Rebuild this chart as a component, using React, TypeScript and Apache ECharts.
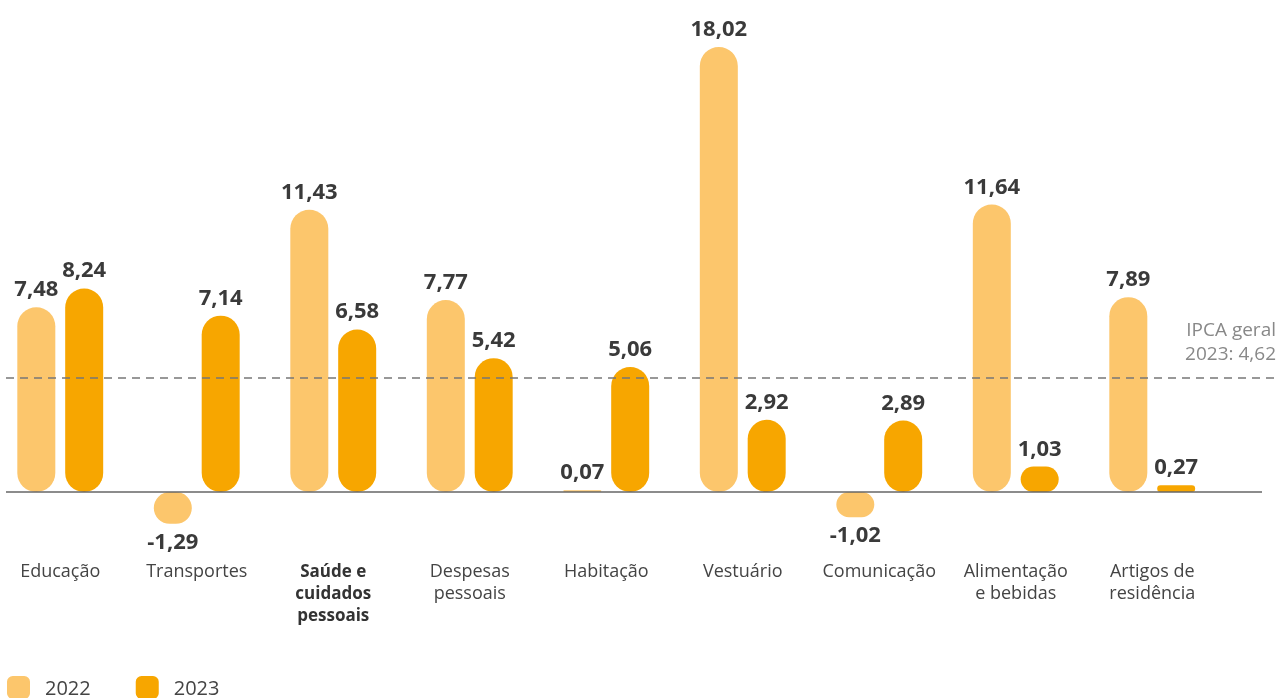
import React, { useEffect, useRef } from "react";
import * as echarts from "echarts";

const categories = [
  "Educação",
  "Transportes",
  "Saúde e\ncuidados\npessoais",
  "Despesas\npessoais",
  "Habitação",
  "Vestuário",
  "Comunicação",
  "Alimentação\ne bebidas",
  "Artigos de\nresidência",
];
const highlightedIndex = 2;
const values2022 = [7.48, -1.29, 11.43, 7.77, 0.07, 18.02, -1.02, 11.64, 7.89];
const values2023 = [8.24, 7.14, 6.58, 5.42, 5.06, 2.92, 2.89, 1.03, 0.27];
const seriesNames = ["2022", "2023"];
const ipcaValue = 4.62;
const ipcaLabel = "IPCA geral\n2023: 4,62";

const COLOR_2022 = "#FCC66C";
const COLOR_2023 = "#F7A600";
const FONT = "'Open Sans', Lato, sans-serif";

const fmt = (v: number) => v.toFixed(2).replace(".", ",");

function buildData(values: number[]) {
  return values.map((v) => ({
    value: v,
    label: v < 0 ? { position: "bottom", distance: 5 } : { position: "top", distance: 9 },
  }));
}

export default function App() {
  const ref = useRef<HTMLDivElement>(null);
  useEffect(() => {
    if (!ref.current) return;
    const chart = echarts.init(ref.current, undefined, { renderer: "svg" });
    const barLabel = {
      show: true,
      formatter: (p: any) => fmt(p.value),
      fontFamily: FONT,
      fontSize: 22,
      fontWeight: "bold",
      color: "#3a3a3a",
    };
    chart.setOption({
      animation: false,
      textStyle: { fontFamily: FONT },
      grid: {
        left: -8,
        right: 57.5,
        top: 2,
        bottom: 146,
        outerBoundsMode: "none",
        containLabel: false,
      },
      legend: {
        left: 2,
        top: 671,
        icon: "roundRect",
        itemWidth: 23,
        itemHeight: 23,
        itemGap: 45,
        data: seriesNames,
        textStyle: {
          fontFamily: FONT,
          fontSize: 20,
          color: "#444",
          padding: [0, 0, 0, 10],
        },
      },
      xAxis: {
        type: "category",
        data: categories,
        axisLine: { show: false, onZero: false },
        axisTick: { show: false },
        axisLabel: {
          interval: 0,
          margin: 7,
          fontFamily: FONT,
          fontSize: 18,
          lineHeight: 22,
          color: "#444",
          formatter: (val: string, idx: number) =>
            idx === highlightedIndex
              ? val
                  .split("\n")
                  .map((l) => `{b|${l}}`)
                  .join("\n")
              : val,
          rich: {
            b: {
              fontFamily: FONT,
              fontSize: 17,
              lineHeight: 22,
              fontWeight: "bold",
              color: "#333",
            },
          },
        },
      },
      yAxis: {
        type: "value",
        min: -2.43,
        max: 19.84,
        show: false,
        splitLine: { show: false },
      },
      series: [
        {
          name: seriesNames[0],
          type: "bar",
          clip: false,
          barWidth: 38,
          barGap: "26%",
          itemStyle: { color: COLOR_2022, borderRadius: 19 },
          label: barLabel,
          data: buildData(values2022),
          markLine: {
            silent: true,
            symbol: "none",
            label: { show: false },
            lineStyle: { color: "#666", width: 1.5, type: "solid" },
            data: [[{ x: 6, yAxis: 0, xAxis: 0 }, { x: 1262, yAxis: 0, xAxis: 0 }]],
          },
        },
        {
          name: seriesNames[1],
          type: "bar",
          clip: false,
          barWidth: 38,
          barGap: "26%",
          itemStyle: { color: COLOR_2023, borderRadius: 19 },
          label: barLabel,
          data: buildData(values2023),
          markLine: {
            silent: true,
            symbol: "none",
            lineStyle: { color: "#777", width: 1.5, type: [8, 6] },
            label: {
              show: true,
              position: "insideEndTop",
              formatter: ipcaLabel,
              fontFamily: FONT,
              fontSize: 19,
              lineHeight: 24,
              color: "#888",
              align: "right",
              distance: [2, 13],
            },
            data: [
              [
                { x: 6, yAxis: ipcaValue, xAxis: 0 },
                { x: 1278, yAxis: ipcaValue, xAxis: 0 },
              ],
            ],
          },
        },
      ],
    });
    return () => chart.dispose();
  }, []);
  return (
    <div
      ref={ref}
      style={{ position: "fixed", left: 0, top: 0, width: 1278, height: 698 }}
    />
  );
}
